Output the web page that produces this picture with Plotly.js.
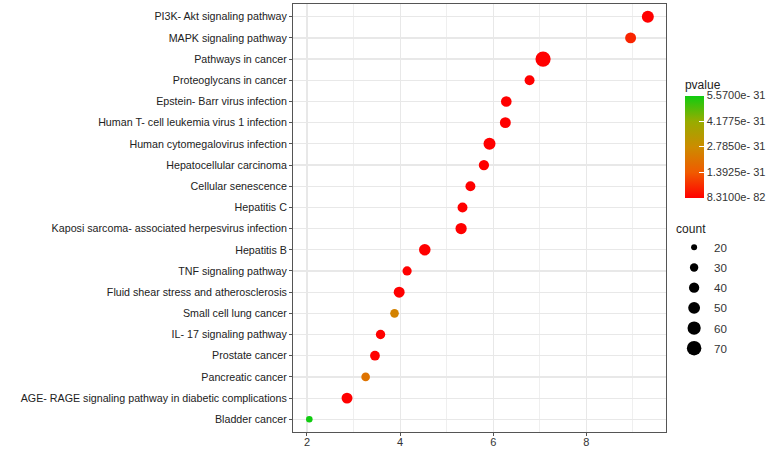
<!DOCTYPE html>
<html>
<head>
<meta charset="utf-8">
<script src="https://cdn.plot.ly/plotly-3.0.1.min.js"></script>
<style>html,body{margin:0;padding:0;background:#fff;}#chart{width:774px;height:449px;}</style>
</head>
<body>
<div id="chart"></div>
<script>
// ---- data ----
var pathways = [
  "PI3K- Akt signaling pathway",
  "MAPK signaling pathway",
  "Pathways in cancer",
  "Proteoglycans in cancer",
  "Epstein- Barr virus infection",
  "Human T- cell leukemia virus 1 infection",
  "Human cytomegalovirus infection",
  "Hepatocellular carcinoma",
  "Cellular senescence",
  "Hepatitis C",
  "Kaposi sarcoma- associated herpesvirus infection",
  "Hepatitis B",
  "TNF signaling pathway",
  "Fluid shear stress and atherosclerosis",
  "Small cell lung cancer",
  "IL- 17 signaling pathway",
  "Prostate cancer",
  "Pancreatic cancer",
  "AGE- RAGE signaling pathway in diabetic complications",
  "Bladder cancer"
];
var xValues = [9.32, 8.95, 7.07, 6.78, 6.28, 6.26, 5.92, 5.80, 5.51, 5.34,
               5.31, 4.53, 4.15, 3.98, 3.88, 3.58, 3.46, 3.26, 2.86, 2.05];
var counts = [51, 44, 76, 38, 42, 44, 51, 40, 38, 38,
              46, 48, 34, 44, 31, 35, 37, 31, 44, 22];
var pvalues = [1e-60, 0.55e-31, 8.31e-82, 1e-45, 1e-40, 1e-42, 1e-44, 1e-38, 1e-36, 1e-35,
               1e-38, 1e-40, 1e-34, 1e-38, 2.5e-31, 1e-33, 1e-33, 2.1e-31, 1e-40, 5.57e-31];
var pTickVals = [8.31e-82, 1.3925e-31, 2.785e-31, 4.1775e-31, 5.57e-31];
var pTickText = ["8.3100e- 82", "1.3925e- 31", "2.7850e- 31", "4.1775e- 31", "5.5700e- 31"];
var legendCounts = [20, 30, 40, 50, 60, 70];

// size scale (area-like, as in ggplot scale_size)
function sizeFor(c) { return Math.sqrt(3.48 * c - 33.6); }

var font = "Liberation Sans, Arial, sans-serif";
var colorscale = [
  [0, "#FF0000"],
  [0.25, "#F05A00"],
  [0.5, "#CC8C00"],
  [0.75, "#98AC00"],
  [1, "#10CC10"]
];

var traces = [{
  type: "scatter",
  mode: "markers",
  x: xValues,
  y: pathways,
  showlegend: false,
  hoverinfo: "x+y",
  marker: {
    size: counts.map(sizeFor),
    sizemode: "diameter",
    color: pvalues,
    colorscale: colorscale,
    cmin: pTickVals[0],
    cmax: pTickVals[pTickVals.length - 1],
    opacity: 1,
    line: {width: 0},
    showscale: true,
    colorbar: {
      title: {text: "pvalue", side: "top", font: {family: font, size: 12, color: "#222"}},
      tickvals: pTickVals,
      ticktext: pTickText,
      tickfont: {family: font, size: 11, color: "#333"},
      ticks: "inside",
      tickcolor: "#ffffff",
      ticklen: 5,
      thickness: 19,
      thicknessmode: "pixels",
      len: 121,
      lenmode: "pixels",
      x: 1.048,
      xanchor: "left",
      xpad: 0,
      y: 0.689,
      yanchor: "middle",
      ypad: 0,
      outlinewidth: 0
    }
  }
}];

legendCounts.forEach(function (c) {
  traces.push({
    type: "scatter",
    mode: "markers",
    x: [null],
    y: [null],
    name: String(c),
    legendgroup: "c" + c,
    showlegend: true,
    hoverinfo: "skip",
    marker: {size: sizeFor(c), color: "#000000", line: {width: 0}}
  });
});

var layout = {
  width: 774,
  height: 449,
  margin: {l: 293, r: 107, t: 4, b: 17, pad: 0},
  paper_bgcolor: "#ffffff",
  plot_bgcolor: "#ffffff",
  font: {family: font, size: 11, color: "#333"},
  xaxis: {
    range: [1.7, 9.71],
    tickvals: [2, 4, 6, 8],
    showgrid: true,
    gridcolor: "#e8e8e8",
    gridwidth: 1.2,
    minor: {dtick: 1, tick0: 1, showgrid: true, gridcolor: "#efefef", gridwidth: 1},
    zeroline: false,
    showline: true,
    linecolor: "#555",
    linewidth: 1,
    mirror: true,
    ticks: "outside",
    ticklen: 3,
    tickcolor: "#555",
    ticklabelstandoff: -3,
    tickfont: {family: font, size: 11, color: "#333"}
  },
  yaxis: {
    type: "category",
    categoryorder: "array",
    categoryarray: pathways,
    range: [19.6, -0.6],
    showgrid: true,
    gridcolor: "#e8e8e8",
    gridwidth: 1.2,
    zeroline: false,
    showline: true,
    linecolor: "#555",
    linewidth: 1,
    mirror: true,
    ticks: "outside",
    ticklen: 3,
    tickcolor: "#555",
    tickfont: {family: font, size: 10.7, color: "#222"}
  },
  legend: {
    title: {text: "count", font: {family: font, size: 12, color: "#222"}},
    x: 1.019,
    xanchor: "left",
    y: 0.502,
    yanchor: "top",
    itemsizing: "trace",
    font: {family: font, size: 11.6, color: "#333"},
    bgcolor: "rgba(0,0,0,0)",
    tracegroupgap: 1.2
  },
  showlegend: true
};

Plotly.newPlot("chart", traces, layout, {staticPlot: true, displayModeBar: false});
</script>
</body>
</html>
